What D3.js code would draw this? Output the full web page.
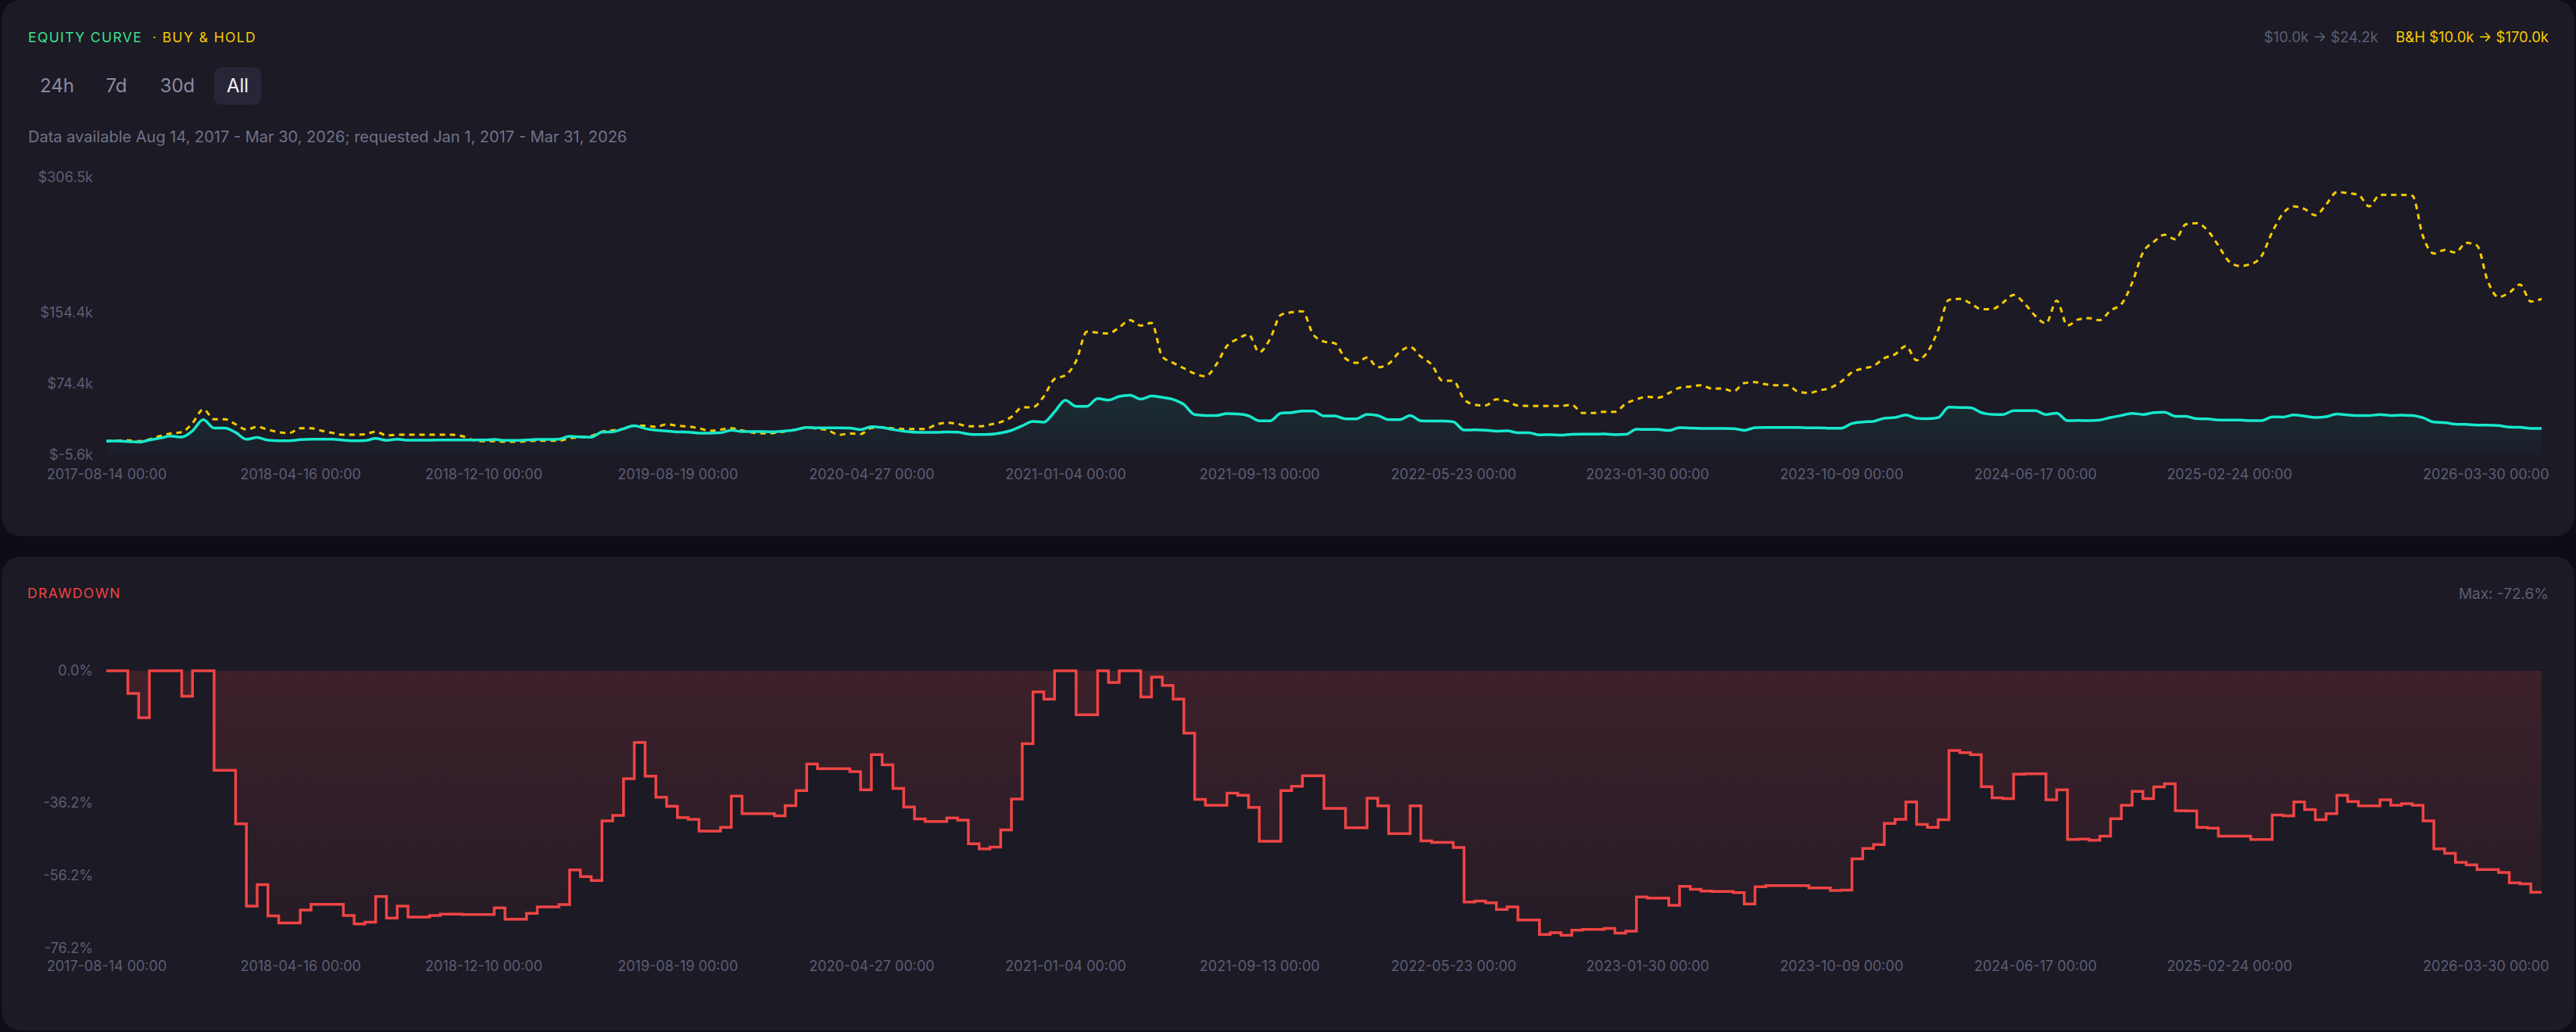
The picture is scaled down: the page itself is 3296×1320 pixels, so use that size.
<!DOCTYPE html>
<html>
  <head>
    <meta charset="utf-8">
    <title>Equity curve and drawdown</title>
    <script src="https://d3js.org/d3.v7.min.js"></script>
    <style>
      body { margin: 0; background: #0e0d15; }
      svg { display: block; font-family: Inter, "Noto Sans", sans-serif; }
    </style>
  </head>
  <body>
    <div id="vis"></div>
    <script>
      // x axis: one sample per index, labels shown at these indices
      var xTickIdx = [0, 18, 35, 53, 71, 89, 107, 125, 143, 161, 179, 197, 226];
      var xTickLabels = ["2017-08-14 00:00", "2018-04-16 00:00", "2018-12-10 00:00", "2019-08-19 00:00",
        "2020-04-27 00:00", "2021-01-04 00:00", "2021-09-13 00:00", "2022-05-23 00:00", "2023-01-30 00:00",
        "2023-10-09 00:00", "2024-06-17 00:00", "2025-02-24 00:00", "2026-03-30 00:00"];

      // strategy equity, $k
      var equity = [
        10.0, 10.2, 9.6, 8.9, 11.3, 13.4, 15.7, 14.6, 21.6, 34.1,
        24.8, 24.8, 19.8, 12.1, 14.1, 11.1, 10.5, 10.5, 11.7, 12.2,
        12.2, 12.2, 11.2, 10.4, 10.6, 13.0, 10.9, 12.1, 11.0, 11.0,
        11.2, 11.3, 11.3, 11.3, 11.3, 11.3, 11.9, 10.8, 10.8, 11.4,
        12.0, 12.0, 12.2, 15.5, 14.8, 14.5, 20.1, 20.6, 24.0, 27.4,
        24.2, 22.3, 21.4, 20.4, 20.2, 19.1, 19.1, 19.4, 22.4, 20.7,
        20.7, 20.7, 20.5, 21.5, 22.9, 25.4, 24.9, 24.9, 24.9, 24.7,
        23.0, 26.3, 25.3, 23.1, 21.3, 20.2, 20.0, 20.0, 20.3, 20.1,
        17.9, 17.4, 17.6, 19.2, 22.1, 27.3, 32.1, 31.4, 43.0, 56.0,
        49.2, 49.2, 58.0, 56.1, 60.3, 61.7, 57.3, 60.7, 59.2, 56.9,
        51.2, 39.9, 38.9, 38.9, 41.0, 40.6, 38.6, 32.8, 32.8, 41.4,
        42.1, 43.9, 43.9, 38.4, 38.4, 35.1, 35.1, 40.1, 38.8, 34.1,
        34.1, 38.8, 32.9, 32.6, 32.6, 31.8, 22.5, 22.7, 22.4, 21.3,
        21.7, 19.5, 19.5, 17.0, 17.3, 16.9, 17.8, 17.9, 17.9, 18.1,
        17.3, 17.6, 23.4, 23.2, 23.2, 22.0, 25.2, 24.7, 24.4, 24.3,
        24.3, 24.1, 22.2, 25.1, 25.3, 25.3, 25.3, 25.3, 24.9, 24.9,
        24.5, 24.6, 29.9, 31.6, 32.3, 35.8, 36.5, 39.5, 35.7, 35.2,
        36.5, 48.2, 47.8, 47.5, 42.1, 40.2, 40.0, 44.2, 44.2, 44.2,
        39.9, 41.5, 33.1, 33.2, 33.0, 33.7, 36.6, 38.9, 41.3, 40.0,
        42.0, 42.6, 38.0, 37.9, 35.2, 35.0, 33.7, 33.7, 33.7, 33.1,
        33.1, 37.3, 37.1, 39.5, 38.2, 36.5, 37.5, 40.6, 39.5, 38.8,
        38.8, 39.9, 38.9, 39.2, 38.9, 36.3, 31.5, 30.8, 29.2, 28.8,
        28.0, 28.0, 27.5, 25.8, 25.6, 24.2, 24.2];

      // buy & hold, $k
      var buyHold = [
        10.0, 10.5, 10.8, 9.9, 12.0, 15.7, 18.7, 20.1, 30.3, 45.8,
        34.7, 34.7, 28.9, 23.0, 26.0, 23.0, 20.1, 19.2, 24.5, 24.5,
        21.6, 19.2, 17.2, 17.2, 17.8, 20.7, 16.6, 17.2, 17.2, 17.2,
        17.2, 17.2, 17.2, 15.7, 11.3, 9.9, 9.9, 9.3, 9.3, 9.9,
        10.5, 10.5, 10.5, 13.4, 14.3, 15.7, 20.7, 22.2, 23.9, 27.4,
        27.4, 26.0, 28.9, 27.4, 26.5, 24.5, 21.6, 23.0, 24.5, 22.2,
        19.5, 18.7, 19.2, 21.0, 23.0, 25.5, 24.0, 22.0, 17.1, 18.5,
        18.0, 24.9, 25.7, 24.3, 23.7, 23.7, 23.7, 28.6, 30.6, 29.5,
        26.6, 26.6, 28.6, 31.5, 37.3, 47.9, 48.2, 60.3, 80.0, 84.0,
        100.0, 133.0, 132.0, 131.0, 138.0, 146.0, 140.0, 143.0, 105.0, 98.0,
        92.0, 86.0, 83.0, 96.0, 117.0, 125.0, 130.0, 110.0, 125.0, 152.0,
        155.0, 156.0, 130.0, 122.0, 120.0, 103.0, 98.0, 104.0, 93.0, 97.0,
        110.0, 116.0, 105.0, 96.0, 78.0, 78.0, 57.0, 51.0, 50.0, 57.0,
        55.0, 50.0, 49.6, 49.6, 49.6, 49.6, 50.8, 41.6, 41.6, 43.0,
        43.0, 52.0, 57.0, 60.0, 58.9, 64.0, 70.0, 71.4, 72.9, 69.1,
        69.1, 66.0, 75.2, 76.4, 74.0, 72.9, 72.9, 65.6, 64.2, 67.1,
        70.0, 77.0, 87.4, 91.7, 94.6, 103.3, 107.7, 116.9, 101.0, 110.0,
        135.0, 169.0, 170.0, 165.0, 158.4, 158.4, 165.6, 174.4, 165.0, 151.0,
        142.5, 168.0, 140.0, 146.8, 148.3, 146.0, 157.0, 164.0, 188.0, 222.0,
        234.0, 242.0, 237.0, 254.0, 255.0, 247.0, 230.0, 212.0, 207.0, 209.0,
        218.0, 245.0, 266.0, 274.0, 271.0, 264.0, 276.0, 290.0, 289.0, 287.0,
        274.0, 287.0, 287.0, 287.0, 286.0, 240.0, 221.0, 225.0, 222.0, 233.0,
        230.0, 190.0, 172.0, 177.0, 186.0, 167.0, 170.0];

      // drawdown, %
      var drawdown = [
        0, 0, -6.2, -12.9, 0, 0, 0, -7.0, 0, 0,
        -27.3, -27.3, -42.0, -64.6, -58.7, -67.3, -69.2, -69.2, -65.7, -64.1,
        -64.1, -64.1, -67.2, -69.5, -69.0, -62.0, -67.9, -64.6, -67.6, -67.6,
        -67.2, -66.8, -66.8, -66.9, -66.9, -66.9, -65.1, -68.2, -68.2, -66.6,
        -64.8, -64.8, -64.2, -54.7, -56.5, -57.6, -41.2, -39.7, -29.6, -19.7,
        -28.9, -34.7, -37.2, -40.3, -40.8, -44.0, -44.0, -43.0, -34.4, -39.2,
        -39.2, -39.2, -39.8, -37.0, -32.9, -25.6, -26.9, -26.9, -26.9, -27.7,
        -32.7, -23.0, -25.8, -32.3, -37.4, -40.7, -41.4, -41.4, -40.4, -41.0,
        -47.5, -48.9, -48.4, -43.7, -35.2, -20.0, -5.8, -7.8, 0, 0,
        -12.1, -12.1, 0, -3.2, 0, 0, -7.2, -1.7, -4.0, -7.8,
        -17.1, -35.3, -36.9, -36.9, -33.6, -34.2, -37.5, -46.8, -46.8, -32.9,
        -31.7, -28.8, -28.8, -37.8, -37.8, -43.1, -43.1, -35.0, -37.1, -44.7,
        -44.7, -37.1, -46.7, -47.1, -47.1, -48.5, -63.5, -63.2, -63.7, -65.5,
        -64.8, -68.4, -68.4, -72.4, -71.9, -72.6, -71.2, -71.0, -71.0, -70.7,
        -72.0, -71.5, -62.1, -62.4, -62.4, -64.4, -59.2, -60.0, -60.5, -60.6,
        -60.6, -60.9, -64.0, -59.3, -59.0, -59.0, -59.0, -59.0, -59.6, -59.6,
        -60.3, -60.2, -51.6, -48.8, -47.7, -41.9, -40.8, -36.0, -42.2, -43.0,
        -40.9, -21.9, -22.5, -23.0, -31.8, -34.9, -35.1, -28.4, -28.3, -28.3,
        -35.4, -32.7, -46.3, -46.2, -46.5, -45.4, -40.6, -36.9, -33.1, -35.1,
        -31.9, -31.0, -38.4, -38.5, -43.0, -43.2, -45.4, -45.4, -45.4, -46.3,
        -46.3, -39.6, -39.8, -36.0, -38.1, -40.9, -39.2, -34.2, -35.9, -37.1,
        -37.1, -35.4, -36.9, -36.5, -36.9, -41.2, -48.9, -50.1, -52.6, -53.3,
        -54.6, -54.6, -55.4, -58.2, -58.5, -60.8, -60.8];

      var equityTicks = [-5.6, 74.4, 154.4, 306.5];
      var ddTicks = [0, -36.2, -56.2, -76.2];
      var ranges = ["24h", "7d", "30d", "All"];

      var gray = "#5e5d73";
      var teal = "#17e8cc";
      var gold = "#f7cb00";
      var red = "#ef4444";

      var svg = d3.select("#vis")
        .append("svg")
        .attr("width", 3296)
        .attr("height", 1320);

      // gradients
      var defs = svg.append("defs");
      var gEq = defs.append("linearGradient").attr("id", "eqFill")
        .attr("gradientUnits", "userSpaceOnUse").attr("x1", 0).attr("x2", 0).attr("y1", 455).attr("y2", 582);
      gEq.append("stop").attr("offset", 0).attr("stop-color", teal).attr("stop-opacity", 0.14);
      gEq.append("stop").attr("offset", 1).attr("stop-color", teal).attr("stop-opacity", 0.02);
      var gDd = defs.append("linearGradient").attr("id", "ddFill")
        .attr("gradientUnits", "userSpaceOnUse").attr("x1", 0).attr("x2", 0).attr("y1", 858).attr("y2", 1213);
      gDd.append("stop").attr("offset", 0).attr("stop-color", red).attr("stop-opacity", 0.16);
      gDd.append("stop").attr("offset", 1).attr("stop-color", red).attr("stop-opacity", 0.04);

      // panels
      svg.append("rect").attr("x", 2).attr("y", 0).attr("width", 3292).attr("height", 686)
        .attr("rx", 24).attr("fill", "#1b1a25");
      svg.append("rect").attr("x", 2).attr("y", 712).attr("width", 3292).attr("height", 606)
        .attr("rx", 24).attr("fill", "#1b1a25");

      // header of equity panel
      svg.append("text").attr("x", 36).attr("y", 48).attr("dy", "0.35em")
        .attr("font-size", 17.5).attr("letter-spacing", 1.4).attr("fill", "#3ee08a")
        .text("EQUITY CURVE");
      svg.append("text").attr("x", 195).attr("y", 48).attr("dy", "0.35em")
        .attr("font-size", 17.5).attr("letter-spacing", 1.4).attr("fill", gold)
        .text("· BUY & HOLD");
      svg.append("text").attr("x", 3261).attr("y", 48).attr("dy", "0.35em")
        .attr("text-anchor", "end").attr("font-size", 18.5).attr("fill", gold)
        .text("B&H $10.0k → $170.0k");
      svg.append("text").attr("x", 3043).attr("y", 48).attr("dy", "0.35em")
        .attr("text-anchor", "end").attr("font-size", 18.5).attr("fill", gray)
        .text("$10.0k → $24.2k");

      // range buttons
      var btnX = [73, 149, 227, 304];
      svg.append("rect").attr("x", 274).attr("y", 86).attr("width", 60).attr("height", 48)
        .attr("rx", 9).attr("fill", "#272636");
      svg.selectAll(".btn").data(ranges).enter().append("text")
        .attr("x", function(d, i) { return btnX[i]; })
        .attr("y", 110).attr("dy", "0.35em").attr("text-anchor", "middle")
        .attr("font-size", 24)
        .attr("fill", function(d) { return d == "All" ? "#f2f2f7" : "#8b8aa0"; })
        .text(function(d) { return d; });

      svg.append("text").attr("x", 36).attr("y", 175).attr("dy", "0.35em")
        .attr("font-size", 20).attr("fill", "#727189")
        .text("Data available Aug 14, 2017 - Mar 30, 2026; requested Jan 1, 2017 - Mar 31, 2026");

      // scales
      var x = d3.scaleLinear().domain([0, equity.length - 1]).range([136, 3252]);
      var yEq = d3.scaleLinear().domain([equityTicks[0], equityTicks[equityTicks.length - 1]]).range([582, 227]);
      var yDd = d3.scaleLinear().domain([ddTicks[ddTicks.length - 1], 0]).range([1213, 858]);

      function xAxis(yPos) {
        var ax = svg.append("g")
          .attr("transform", "translate(0," + yPos + ")")
          .call(d3.axisBottom(x).tickValues(xTickIdx)
            .tickFormat(function(d, i) { return xTickLabels[i]; })
            .tickSize(0).tickPadding(0));
        ax.select(".domain").remove();
        ax.attr("font-family", null).attr("font-size", null);
        ax.selectAll("text").attr("y", 0).attr("dy", "0.35em")
          .attr("font-size", 18).attr("fill", gray);
        ax.selectAll(".tick:last-of-type text").attr("text-anchor", "end").attr("x", 9);
      }

      function yAxis(scale, ticks, fmt) {
        var ax = svg.append("g")
          .attr("transform", "translate(136,0)")
          .call(d3.axisLeft(scale).tickValues(ticks).tickFormat(fmt).tickSize(0).tickPadding(17));
        ax.select(".domain").remove();
        ax.attr("font-family", null).attr("font-size", null);
        ax.selectAll("text").attr("font-size", 18).attr("fill", gray);
      }

      // equity chart
      yAxis(yEq, equityTicks, function(d) { return "$" + d.toFixed(1) + "k"; });
      xAxis(607);

      svg.append("path").datum(equity)
        .attr("fill", "url(#eqFill)")
        .attr("d", d3.area()
          .x(function(d, i) { return x(i); })
          .y0(yEq(equityTicks[0]))
          .y1(function(d) { return yEq(d); })
          .curve(d3.curveMonotoneX));

      svg.append("path").datum(buyHold)
        .attr("fill", "none").attr("stroke", gold).attr("stroke-width", 3)
        .attr("stroke-dasharray", "7 6")
        .attr("d", d3.line()
          .x(function(d, i) { return x(i); })
          .y(function(d) { return yEq(d); })
          .curve(d3.curveMonotoneX));

      svg.append("path").datum(equity)
        .attr("fill", "none").attr("stroke", teal).attr("stroke-width", 3.5)
        .attr("d", d3.line()
          .x(function(d, i) { return x(i); })
          .y(function(d) { return yEq(d); })
          .curve(d3.curveMonotoneX));

      // drawdown panel
      svg.append("text").attr("x", 35).attr("y", 759).attr("dy", "0.35em")
        .attr("font-size", 17.5).attr("letter-spacing", 1.4).attr("fill", red)
        .text("DRAWDOWN");
      svg.append("text").attr("x", 3261).attr("y", 759).attr("dy", "0.35em")
        .attr("text-anchor", "end").attr("font-size", 19).attr("fill", gray)
        .text("Max: " + d3.min(drawdown).toFixed(1) + "%");

      yAxis(yDd, ddTicks, function(d) { return d.toFixed(1) + "%"; });
      xAxis(1236);

      svg.append("path").datum(drawdown)
        .attr("fill", "url(#ddFill)")
        .attr("d", d3.area()
          .x(function(d, i) { return x(i); })
          .y0(yDd(0))
          .y1(function(d) { return yDd(d); })
          .curve(d3.curveStepAfter));

      svg.append("path").datum(drawdown)
        .attr("fill", "none").attr("stroke", red).attr("stroke-width", 3.5)
        .attr("d", d3.line()
          .x(function(d, i) { return x(i); })
          .y(function(d) { return yDd(d); })
          .curve(d3.curveStepAfter));
    </script>
  </body>
</html>
